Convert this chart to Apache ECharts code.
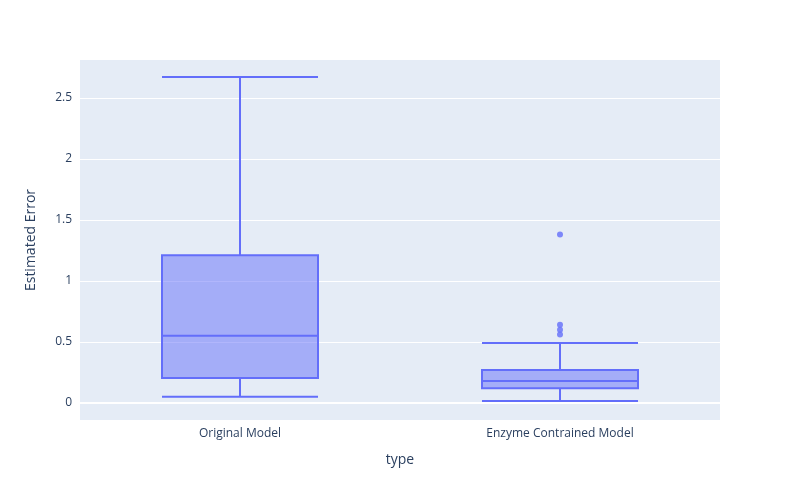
<!DOCTYPE html>
<html><head><meta charset="utf-8">
<script src="https://cdn.jsdelivr.net/npm/echarts@6/dist/echarts.min.js"></script>
<style>html,body{margin:0;padding:0;background:#fff}#c{width:800px;height:500px}</style>
</head><body><div id="c"></div>
<script>
const categories = ['Original Model', 'Enzyme Contrained Model'];
// [min, Q1, median, Q3, max]
const boxValues = [
  [0.05, 0.205, 0.55, 1.21, 2.67],
  [0.015, 0.12, 0.18, 0.27, 0.49]
];
const outliers = [
  ['Enzyme Contrained Model', 1.38],
  ['Enzyme Contrained Model', 0.64],
  ['Enzyme Contrained Model', 0.60],
  ['Enzyme Contrained Model', 0.56]
];
const yTicks = [0, 0.5, 1, 1.5, 2, 2.5];

const chart = echarts.init(document.getElementById('c'));
const font = 'Open Sans, Noto Sans, sans-serif';
chart.setOption({
  animation: false,
  grid: { left: 80, right: 80, top: 60, bottom: 80, show: true, backgroundColor: '#e5ecf6', borderWidth: 0 },
  xAxis: {
    type: 'category', data: categories,
    name: 'type', nameLocation: 'middle', nameGap: 33,
    nameTextStyle: { color: '#2a3f5f', fontSize: 14, fontFamily: font },
    axisLine: { show: false }, axisTick: { show: false },
    axisLabel: { color: '#2a3f5f', fontSize: 12, fontFamily: font }
  },
  yAxis: {
    type: 'value', min: -0.14, max: 2.81,
    name: 'Estimated Error', nameLocation: 'middle', nameGap: 42,
    nameTextStyle: { color: '#2a3f5f', fontSize: 14, fontFamily: font },
    axisLine: { show: false },
    axisTick: { show: false, customValues: yTicks },
    axisLabel: { color: '#2a3f5f', fontSize: 12, fontFamily: font, customValues: yTicks },
    splitLine: { show: true, lineStyle: { color: '#fff', width: 1 } }
  },
  series: [
    {
      type: 'boxplot', data: boxValues, boxWidth: [156, 156],
      itemStyle: { color: 'rgba(99,110,250,0.5)', borderColor: '#636efa', borderWidth: 2 }
    },
    {
      type: 'scatter', data: outliers, symbolSize: 6,
      itemStyle: { color: '#636efa' },
      markLine: {
        silent: true, symbol: 'none', label: { show: false },
        lineStyle: { color: '#fff', width: 2, type: 'solid' },
        data: [{ yAxis: 0 }]
      }
    }
  ]
});
</script></body></html>
